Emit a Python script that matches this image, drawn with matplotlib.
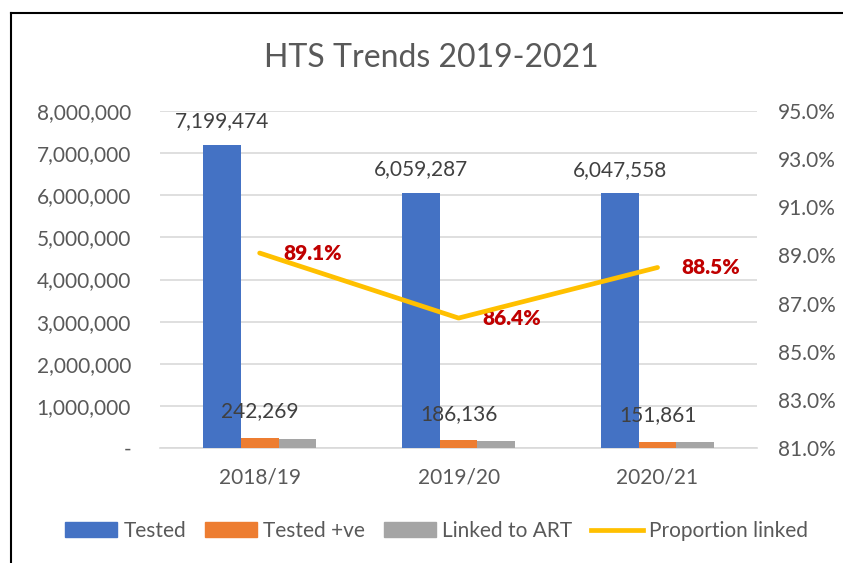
import numpy as np
import matplotlib.pyplot as plt
from matplotlib.ticker import FuncFormatter, MultipleLocator
from matplotlib.lines import Line2D
from matplotlib.patches import Patch

plt.rcParams['font.family'] = ['Lato', 'DejaVu Sans']

# Dados
years = ["2018/19", "2019/20", "2020/21"]
tested = [7199474, 6059287, 6047558]
tested_pos = [242269, 186136, 151861]
linked = [215862, 160822, 134397]
prop_linked = [89.1, 86.4, 88.5]

txt = '#595959'
x = np.arange(len(years))
w = 0.19

fig = plt.figure(figsize=(8.43, 5.63), dpi=100)
ax = fig.add_axes([0.19, 0.204, 0.708, 0.599])

ax.bar(x - w, tested, w, color='#4472C4', label='Tested', zorder=3)
ax.bar(x, tested_pos, w, color='#ED7D31', label='Tested +ve', zorder=3)
ax.bar(x + w, linked, w, color='#A5A5A5', label='Linked to ART', zorder=3)

for i in range(len(years)):
    ax.annotate(f"{tested[i]:,}", (x[i] - w, tested[i]), xytext=(0, 17),
                textcoords='offset points', ha='center', va='center',
                fontsize=15, color='#404040')
    ax.annotate(f"{tested_pos[i]:,}", (x[i], tested_pos[i]), xytext=(0, 19),
                textcoords='offset points', ha='center', va='center',
                fontsize=15, color='#404040')

ax.set_ylim(0, 8000000)
ax.set_xlim(-0.5, 2.5)
ax.yaxis.set_major_locator(MultipleLocator(1000000))
ax.yaxis.set_major_formatter(FuncFormatter(lambda v, p: '-' if v == 0 else f"{int(v):,}"))
ax.set_xticks(x)
ax.set_xticklabels(years)
ax.grid(axis='y', color='#D9D9D9', linewidth=1.2, zorder=0)
ax.tick_params(axis='y', length=0, pad=21, labelsize=15, labelcolor=txt)
ax.tick_params(axis='x', length=0, pad=14, labelsize=15, labelcolor=txt)
for s in ax.spines.values():
    s.set_visible(False)
ax.spines['bottom'].set_visible(True)
ax.spines['bottom'].set_color('#D9D9D9')
ax.spines['bottom'].set_linewidth(1.2)

ax2 = ax.twinx()
ax2.plot(x, prop_linked, color='#FFC000', linewidth=3.4, solid_capstyle='round',
         label='Proportion linked', zorder=4)
for i in range(len(years)):
    ax2.annotate(f"{prop_linked[i]:.1f}%", (x[i], prop_linked[i]), xytext=(38, 0),
                 textcoords='offset points', ha='center', va='center',
                 fontsize=15, fontweight='heavy', color='#C00000')
ax2.set_ylim(81, 95)
ax2.set_yticks(np.arange(81, 96, 2))
ax2.yaxis.set_major_formatter(FuncFormatter(lambda v, p: f"{v:.1f}%"))
ax2.tick_params(axis='y', length=0, pad=15, labelsize=15, labelcolor=txt)
for s in ax2.spines.values():
    s.set_visible(False)

fig.text(0.512, 0.897, "HTS Trends 2019-2021", ha='center', va='center',
         fontsize=23, color=txt)

handles = [Patch(color='#4472C4'), Patch(color='#ED7D31'), Patch(color='#A5A5A5'),
           Line2D([0], [0], color='#FFC000', linewidth=3.4)]
labels = ['Tested', 'Tested +ve', 'Linked to ART', 'Proportion linked']
fig.legend(handles, labels, loc='center', bbox_to_anchor=(0.518, 0.057), ncol=4,
           frameon=False, fontsize=15, labelcolor=txt, handlelength=2.5,
           handletextpad=0.3, columnspacing=0.9)

# moldura
fig.add_artist(Line2D([0.013, 1.0], [0.977, 0.977], color='black', linewidth=1.5))
fig.add_artist(Line2D([0.013, 0.013], [0.0, 0.977], color='black', linewidth=1.5))

plt.savefig('out.png', dpi=100)
